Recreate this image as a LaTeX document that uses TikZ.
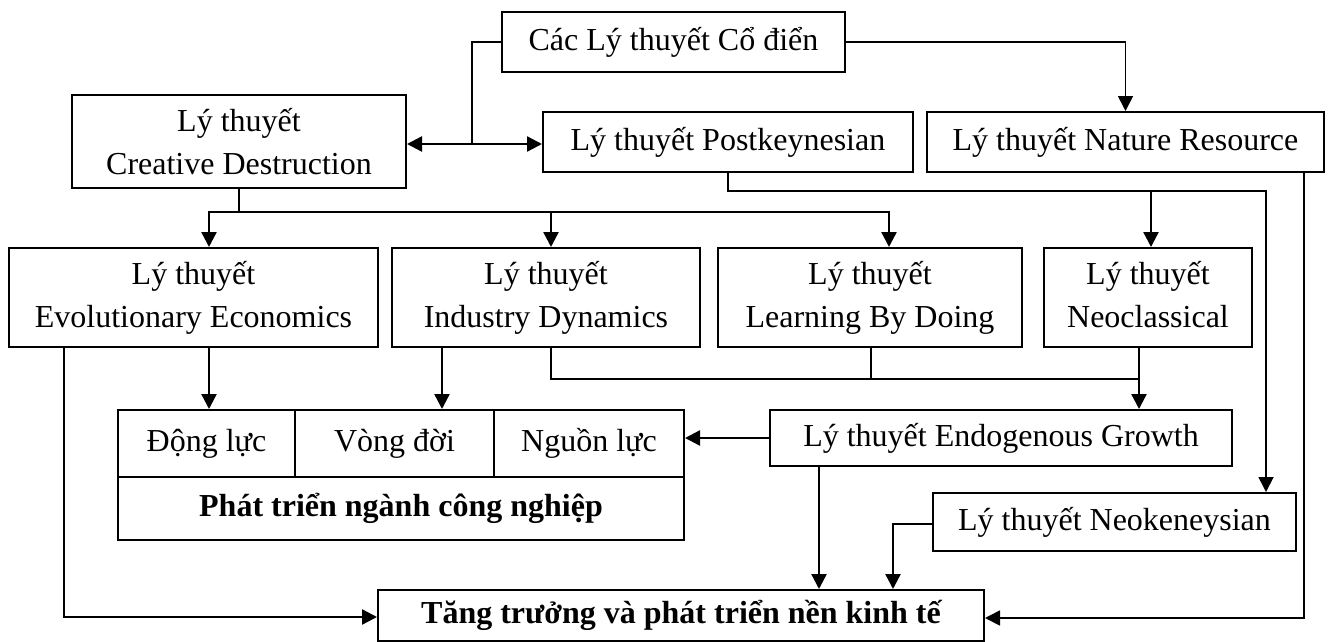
\documentclass[tikz,border=0pt]{standalone}
\usepackage{fontspec}
\setmainfont{Liberation Serif}
\usetikzlibrary{arrows.meta}
\begin{document}
\begin{tikzpicture}[x=1pt,y=-1pt,
  box/.style={draw, line width=2pt, rectangle, inner sep=2pt,
    font=\fontsize{32}{43}\selectfont, align=center},
  boldbox/.style={box, font=\fontsize{32}{43}\selectfont\bfseries},
  conn/.style={line width=2.4pt},
  thinconn/.style={line width=1.8pt},
  tip/.style={-{Triangle[length=15pt,width=15pt]}},
  bothtip/.style={{Triangle[length=15pt,width=15pt]}-{Triangle[length=15pt,width=15pt]}},
]
\useasboundingbox (0,0) rectangle (1330,642);

% theory boxes
\node[box, minimum width=343pt, minimum height=60pt] (cac)   at (673.5,42)   {Các Lý thuyết Cổ điển};
\node[box, minimum width=334pt, minimum height=93pt] (creat) at (239,141.5)  {Lý thuyết\\Creative Destruction};
\node[box, minimum width=370pt, minimum height=60pt] (post)  at (728,142)    {Lý thuyết Postkeynesian};
\node[box, minimum width=397pt, minimum height=60pt] (nat)   at (1125.5,142) {Lý thuyết Nature Resource};
\node[box, minimum width=369pt, minimum height=99pt] (evo)   at (193.5,297.5) {Lý thuyết\\Evolutionary Economics};
\node[box, minimum width=308pt, minimum height=99pt] (ind)   at (546,297.5)  {Lý thuyết\\Industry Dynamics};
\node[box, minimum width=304pt, minimum height=99pt] (learn) at (870,297.5)  {Lý thuyết\\Learning By Doing};
\node[box, minimum width=208pt, minimum height=99pt] (neo)   at (1148,297.5) {Lý thuyết\\Neoclassical\vphantom{y}};

% industry development table
\node[box, minimum width=177pt, minimum height=67pt] (dong)  at (206.5,443.5) {Động lực};
\node[box, minimum width=199pt, minimum height=67pt] (vong)  at (394.5,443.5) {Vòng đời};
\node[box, minimum width=190pt, minimum height=67pt] (nguon) at (589,443.5)   {Nguồn lực};
\node[boldbox, minimum width=566pt, minimum height=63pt] (phat) at (401,508.5) {Phát triển ngành công nghiệp};

\node[box, minimum width=462pt, minimum height=56pt] (endo)  at (1001,438)   {Lý thuyết Endogenous Growth};
\node[box, minimum width=363pt, minimum height=58pt] (neok)  at (1114.5,522) {Lý thuyết Neokeneysian};
\node[boldbox, minimum width=606pt, minimum height=51pt] (tang) at (681,615.5) {Tăng trưởng và phát triển nền kinh tế};

% routing points
\coordinate (jn) at (472,144);
\coordinate (cd) at (239,212);
\coordinate (b1) at (209,212);
\coordinate (b2) at (551,212);
\coordinate (b3) at (889,212);
\coordinate (pk) at (1266,191);
\coordinate (nc) at (1151,191);
\coordinate (nr) at (1304,618);
\coordinate (ev) at (64,617);
\coordinate (i1) at (442,379);
\coordinate (i2) at (551,379);
\coordinate (l2) at (871,379);
\coordinate (nb) at (1139,379);
\coordinate (e2) at (819,590);
\coordinate (nk) at (893,524);

% classical theories
\draw[thinconn] (cac.west) -| (jn);
\draw[conn,bothtip] (creat.east |- jn) -- (post.west |- jn);
\draw[thinconn,tip] (cac.east) -| (nat.north);

% creative destruction branches
\draw[conn] (creat.south) -- (cd);
\draw[conn,tip] (cd) -| (b1 |- evo.north);
\draw[conn,tip] (cd) -| (b3 |- learn.north);
\draw[conn,tip] (b2) -- (b2 |- ind.north);

% postkeynesian branches
\draw[thinconn,tip] (post.south) |- (pk) -- (pk |- neok.north);
\draw[conn,tip] (nc) -- (nc |- neo.north);

% nature resource to growth
\draw[thinconn,tip] (nr |- nat.south) -- (nr) -- (nr -| tang.east);

% evolutionary economics
\draw[conn,tip] (ev |- evo.south) -- (ev) -- (ev -| tang.west);
\draw[conn,tip] (b1 |- evo.south) -- (b1 |- dong.north);

% industry dynamics, learning by doing, neoclassical
\draw[conn,tip] (i1 |- ind.south) -- (i1 |- vong.north);
\draw[thinconn] (i2 |- ind.south) -- (i2) -- (nb);
\draw[thinconn] (l2 |- learn.south) -- (l2);
\draw[conn,tip] (nb |- neo.south) -- (nb |- endo.north);

% endogenous growth
\draw[conn,tip] (endo.west) -- (endo.west -| nguon.east);
\draw[conn,tip] (e2 |- endo.south) -- (e2 |- tang.north);

% neokeneysian
\draw[conn,tip] (neok.west |- nk) -| (nk |- tang.north);
\end{tikzpicture}
\end{document}
